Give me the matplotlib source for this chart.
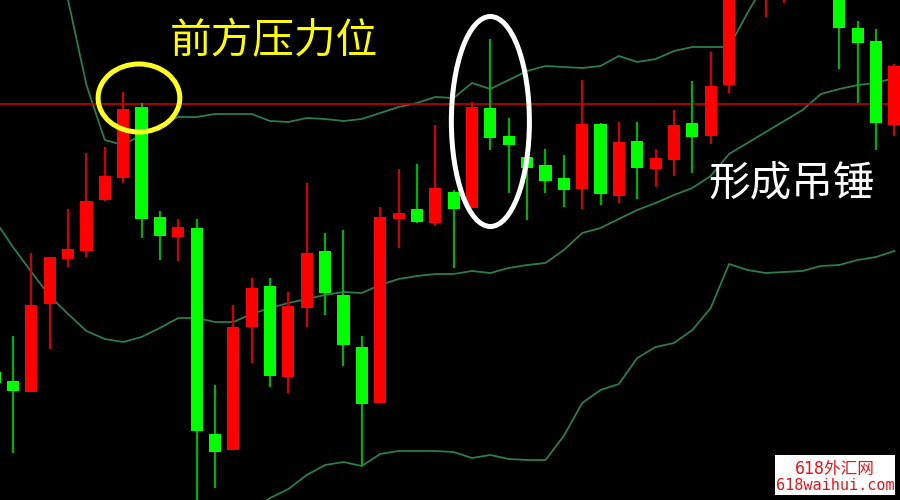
import matplotlib
matplotlib.use('Agg')
import numpy as np
import matplotlib.pyplot as plt
from matplotlib.patches import Ellipse, Rectangle

# candle data (price units), index 0..49
opens = [128, 119, 108, 196, 241, 249, 300, 322, 393, 283,
         263, 272, 66, 50, 173, 214, 123, 192, 249, 205,
         153, 97, 281, 291, 277, 308, 292, 392, 364, 343,
         335, 322, 311, 376, 304, 359, 331, 340, 377, 364,
         415, 512, 505, 510, 550, 530, 510, 472, 459, 375]
highs = [140, 164, 247, 243, 291, 347, 353, 408, 397, 289,
         281, 281, 115, 195, 222, 222, 208, 317, 267, 270,
         164, 293, 331, 336, 375, 310, 398, 461, 382, 343,
         351, 345, 420, 377, 378, 378, 351, 390, 419, 448,
         530, 560, 555, 545, 560, 545, 520, 479, 471, 436]
lows = [105, 47, 108, 151, 233, 243, 299, 317, 262, 240,
        239, -5, 12, 50, 137, 113, 107, 173, 185, 134,
        35, 97, 252, 277, 274, 232, 292, 350, 307, 280,
        307, 293, 291, 295, 297, 301, 313, 324, 327, 356,
        407, 505, 483, 497, 510, 505, 431, 397, 350, 364]
closes = [117, 109, 195, 243, 251, 299, 324, 391, 281, 264,
          273, 69, 48, 173, 212, 124, 194, 247, 207, 155,
          96, 283, 287, 278, 312, 291, 393, 362, 355, 332,
          319, 310, 376, 306, 358, 332, 342, 375, 363, 414,
          515, 548, 540, 530, 520, 515, 472, 457, 377, 434]

# bollinger bands
band_upper = [660, 630, 590, 545, 500, 415, 360, 355, 365, 375,
              383, 383, 386, 386, 386, 379, 378, 382, 381, 379,
              381, 387, 393, 397, 403, 402, 417, 411, 420, 429,
              434, 433, 432, 434, 444, 438, 441, 449, 453, 453,
              453, 487, 518, 545, 565, 580, 590, 595, 600, 600]
band_mid = [280, 253, 228, 204, 186, 169, 161, 158, 163, 172,
            182, 182, 178, 178, 186, 192, 197, 201, 205, 208,
            207, 215, 221, 224, 226, 226, 229, 227, 232, 235,
            237, 250, 267, 272, 281, 290, 297, 305, 312, 324,
            346, 357, 368, 379, 390, 406, 411, 415, 417, 422]
band_lower = [-100, -124, -134, -137, -128, -77, -38, -39, -39, -31,
              -19, -19, -30, -30, -12, 2, 11, 25, 35, 38,
              34, 46, 49, 49, 49, 48, 42, 45, 41, 40,
              40, 64, 97, 110, 116, 142, 153, 157, 170, 192,
              236, 230, 227, 228, 229, 234, 235, 240, 243, 249]

resistance = 396

up_col = '#ff0000'
dn_col = '#00ff00'
band_col = '#2b7d4d'

fig = plt.figure(figsize=(9, 5), dpi=100)
fig.patch.set_facecolor('black')
ax = fig.add_axes([0, 0, 1, 1])
ax.set_facecolor('black')

x = np.arange(len(opens))
o = np.array(opens)
c = np.array(closes)
up = c >= o

# bands
for band in (band_upper, band_mid, band_lower):
    ax.plot(x, band, color=band_col, lw=1.3, zorder=1)

# resistance line
ax.axhline(resistance, color='#c00000', lw=1.2, zorder=2)

# wicks
ax.vlines(x[up], np.array(lows)[up], np.array(highs)[up], color='#d00000', lw=1.6, zorder=3)
ax.vlines(x[~up], np.array(lows)[~up], np.array(highs)[~up], color='#00b000', lw=1.6, zorder=3)

# bodies
bottom = np.minimum(o, c)
height = np.maximum(np.abs(c - o), 1)
ax.bar(x[up], height[up], bottom=bottom[up], width=0.66, color=up_col, lw=0, zorder=4)
ax.bar(x[~up], height[~up], bottom=bottom[~up], width=0.66, color=dn_col, lw=0, zorder=4)

ax.set_xlim(0.292, 49.31)
ax.set_ylim(0, 500)
ax.axis('off')

cjk = ['Noto Sans CJK SC', 'DejaVu Sans']

# annotations
ax.add_patch(Ellipse((7.86, 402), 4.45, 68, fill=False, ec='#ffff22', lw=3.6, zorder=5))
ax.add_patch(Ellipse((27.0, 378.5), 4.25, 210, fill=False, ec='white', lw=3.6, zorder=5))

ax.text(274 / 900, 1 - 42 / 500, '前方压力位', transform=ax.transAxes, color='#ffff00',
        fontsize=30, family=cjk, ha='center', va='center', zorder=6)
ax.text(792 / 900, 1 - 184 / 500, '形成吊锤', transform=ax.transAxes, color='white',
        fontsize=30, family=cjk, ha='center', va='center', zorder=6)

# watermark
ax.add_patch(Rectangle((775 / 900, 5 / 500), 120 / 900, 40 / 500, transform=ax.transAxes,
                       fc='white', ec='none', zorder=7))
ax.text(835 / 900, 1 - 469 / 500, '618外汇网', transform=ax.transAxes, color='#e8141b',
        fontsize=12, family=['DejaVu Sans Mono', 'Noto Sans CJK SC'],
        ha='center', va='center', zorder=8)
ax.text(835 / 900, 1 - 486 / 500, '618waihui.com', transform=ax.transAxes, color='#e8141b',
        fontsize=11, family=['DejaVu Sans Mono'], ha='center', va='center', zorder=8)

fig.savefig('out.png', dpi=100, facecolor='black')
